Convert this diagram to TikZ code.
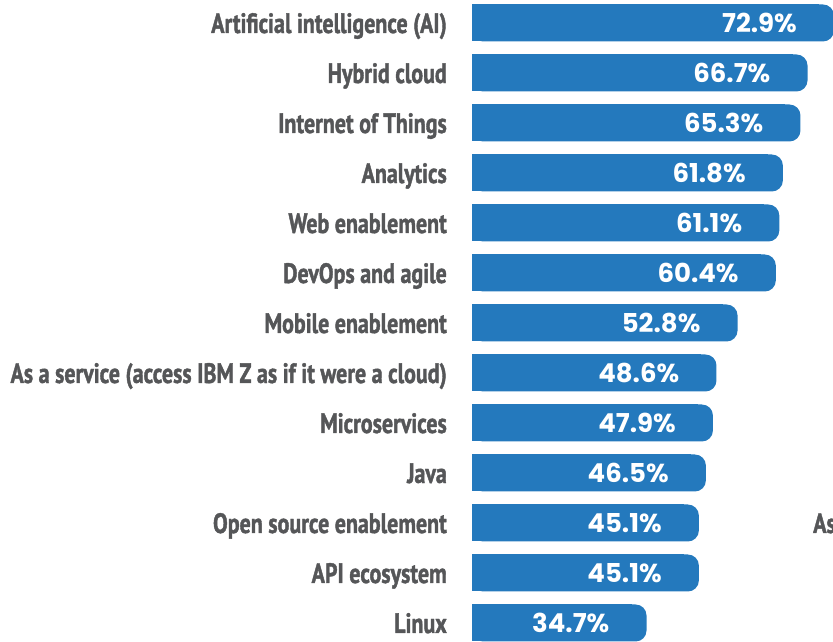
\documentclass[tikz,border=0pt]{standalone}
\usepackage{fontspec}
\newfontfamily\labfont[FakeStretch=0.785,FakeBold=1.4]{PT Sans Bold}
\newfontfamily\pctfont{Poppins}
\definecolor{barblue}{RGB}{36,121,189}
\definecolor{labgray}{RGB}{85,86,88}
\begin{document}
\begin{tikzpicture}[x=1pt,y=1pt,
  lab/.style={anchor=base east, inner sep=0pt, text=labgray, font=\labfont\fontsize{28}{30}\selectfont},
  pct/.style={anchor=base east, inner sep=0pt, text=white, font=\pctfont\bfseries\fontsize{26}{28}\selectfont},
  barfill/.style={fill=barblue}]
\useasboundingbox (0,0) rectangle (833,642);
\foreach \i/\t/\p in {
  1/{Artificial intelligence (AI)}/72.9,
  2/{Hybrid cloud}/66.7,
  3/{Internet of Things}/65.3,
  4/{Analytics}/61.8,
  5/{Web enablement}/61.1,
  6/{DevOps and agile}/60.4,
  7/{Mobile enablement}/52.8,
  8/{As a service (access IBM Z as if it were a cloud)}/48.6,
  9/{Microservices}/47.9,
  10/{Java}/46.5,
  11/{Open source enablement}/45.1,
  12/{API ecosystem}/45.1,
  13/{Linux}/34.7} {
  \pgfmathsetmacro\cy{619-50*(\i-1)}
  \pgfmathsetmacro\R{min(472+5.03*\p,834)}
  \fill[barfill, rounded corners=11] (472,\cy-18.5) rectangle (\R,\cy+18.5);
  \fill[barfill] (472,\cy-18.5) rectangle (\R-15,\cy+18.5);
  \node[lab] (l\i) at (447,\cy-10) {\t};
  \node[pct] (p\i) at (\R-37,\cy-9.5) {\p\%};
}
\node[lab, anchor=base west] (as) at (813,109) {As};
\end{tikzpicture}
\end{document}
